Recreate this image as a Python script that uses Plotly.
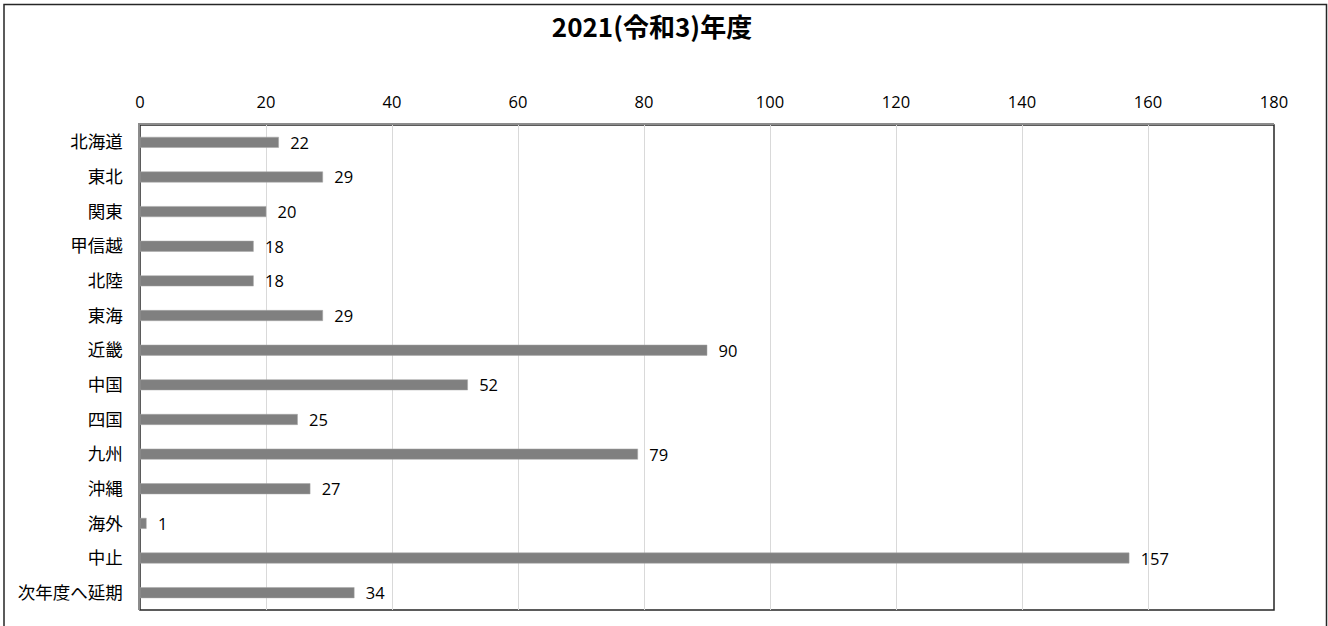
import plotly.graph_objects as go

categories = ["北海道", "東北", "関東", "甲信越", "北陸", "東海", "近畿", "中国",
              "四国", "九州", "沖縄", "海外", "中止", "次年度へ延期"]
values = [22, 29, 20, 18, 18, 29, 90, 52, 25, 79, 27, 1, 157, 34]
x_ticks = [0, 20, 40, 60, 80, 100, 120, 140, 160, 180]
title_text = "2021(令和3)年度"

W, H = 1328, 626
L, R, T, B = 140, 54, 125, 16
pw, ph = W - L - R, H - T - B

fig = go.Figure()
fig.add_trace(go.Bar(
    y=categories, x=values, orientation="h",
    marker=dict(color="#808080", line=dict(color="#a6a6a6", width=0.5)),
    width=0.3,
    text=[f"  {v}" for v in values], textposition="outside",
    constraintext="none",
    textfont=dict(family="Open Sans, Noto Sans CJK JP", size=16.5, color="#000000"),
    outsidetextfont=dict(family="Open Sans, Noto Sans CJK JP", size=16.5, color="#000000"),
    cliponaxis=False,
))

def px2paperx(px):
    return (px - L) / pw

def py2papery(py):
    return (H - B - py) / ph

fig.update_layout(
    width=W, height=H,
    margin=dict(l=L, r=R, t=T, b=B),
    paper_bgcolor="white", plot_bgcolor="white",
    showlegend=False,
    font=dict(family="Noto Sans CJK JP, Open Sans", size=16, color="#000"),
    title=dict(text=f"<b>{title_text}</b>", x=652 / W, xref="container", xanchor="center",
               y=1 - 28 / H, yanchor="middle",
               font=dict(family="Noto Sans CJK JP", size=26, color="#000")),
    xaxis=dict(side="top", range=[0, 180], tickvals=x_ticks,
               showgrid=True, gridcolor="#d9d9d9", gridwidth=1,
               zeroline=False, showline=True, linecolor="#8c8c8c", linewidth=1.5,
               ticks="", ticklabelstandoff=9,
               tickfont=dict(family="Open Sans, Noto Sans CJK JP", size=16.5)),
    yaxis=dict(autorange="reversed", showgrid=False, zeroline=False,
               showline=True, linecolor="#8c8c8c", linewidth=1.5,
               ticks="", ticklabelstandoff=12,
               tickfont=dict(family="Noto Sans CJK JP", size=17.5)),
    bargap=0.7,
)

# plot-area frame (right/bottom dark)
fig.add_shape(type="rect", xref="paper", yref="paper", x0=0, x1=1, y0=0, y1=1,
              line=dict(color="#262626", width=1.5), layer="below")
# outer chart border
fig.add_shape(type="rect", xref="paper", yref="paper",
              x0=px2paperx(4), x1=px2paperx(1326.5),
              y0=py2papery(640), y1=py2papery(4.5),
              line=dict(color="#262626", width=1.5), layer="below")

fig.write_html("out.html", config={"displayModeBar": False},
               post_script="document.body.style.margin='0';document.body.style.overflow='hidden';")
